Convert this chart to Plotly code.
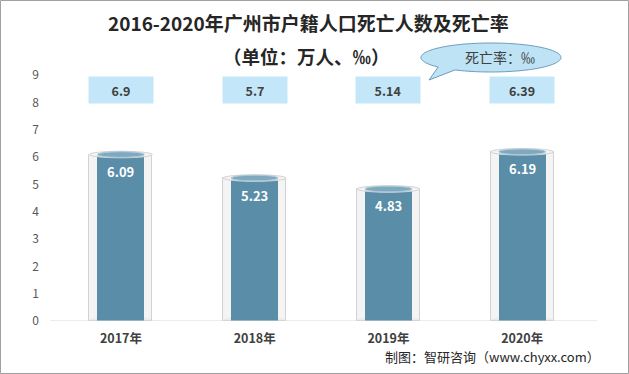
import numpy as np
import plotly.graph_objects as go

years = ["2017年", "2018年", "2019年", "2020年"]
deaths = [6.09, 5.23, 4.83, 6.19]          # 死亡人数（万人）
rates = [6.9, 5.7, 5.14, 6.39]             # 死亡率（‰）
y_ticks = [0, 1, 2, 3, 4, 5, 6, 7, 8, 9]

TITLE1 = "2016-2020年广州市户籍人口死亡人数及死亡率"
TITLE2 = "（单位：万人、‰）"
CALLOUT = "死亡率：‰"
SOURCE = "制图：智研咨询（www.chyxx.com）"

W, H = 629, 374
ML, MR, MT, MB = 54, 40, 75, 53
PW, PH = W - ML - MR, H - MT - MB
FONT = "Noto Sans CJK SC"

def px(xp):
    return (xp - ML) / PW

def py(yp):
    return (H - MB - yp) / PH

fig = go.Figure()

# outer glass cylinder
fig.add_trace(go.Bar(
    x=years, y=deaths, width=0.47,
    marker=dict(color="rgba(240,240,240,0.7)", line=dict(color="#D2D2D2", width=1)),
    hoverinfo="skip", showlegend=False,
))
# inner bar
fig.add_trace(go.Bar(
    x=years, y=deaths, width=0.35,
    marker=dict(color="#5A8DA7", line=dict(width=0)),
    showlegend=False,
))

shapes = []
annotations = []
cap_h = 0.12
for i, v in enumerate(deaths):
    # bottom caps
    shapes.append(dict(type="circle", xref="x", yref="y", x0=i - 0.235, x1=i + 0.235,
                       y0=-cap_h * 0.6, y1=cap_h, fillcolor="#EDEDED", line=dict(color="#D2D2D2", width=1),
                       layer="below"))
    shapes.append(dict(type="circle", xref="x", yref="y", x0=i - 0.175, x1=i + 0.175,
                       y0=-cap_h * 0.4, y1=cap_h * 0.8, fillcolor="#5A8DA7", line=dict(width=0)))
    # top caps
    shapes.append(dict(type="circle", xref="x", yref="y", x0=i - 0.235, x1=i + 0.235,
                       y0=v - cap_h, y1=v + cap_h, fillcolor="rgba(246,246,246,0.9)",
                       line=dict(color="#D2D2D2", width=1)))
    shapes.append(dict(type="circle", xref="x", yref="y", x0=i - 0.175, x1=i + 0.175,
                       y0=v - cap_h * 0.85, y1=v + cap_h * 0.85, fillcolor="#7FA9BF",
                       line=dict(color="#A9C8D8", width=1)))
    # value label
    annotations.append(dict(x=i, y=v, xref="x", yref="y", text=f"<b>{v:.2f}</b>",
                            showarrow=False, yshift=-17,
                            font=dict(family=FONT, size=13, color="white")))
    # rate box
    annotations.append(dict(x=i, y=8.45, xref="x", yref="y", text=f"<b>{rates[i]:g}</b>",
                            showarrow=False, width=64, height=26, borderpad=0,
                            bgcolor="#C3E7F8", align="center", valign="middle",
                            font=dict(family=FONT, size=12.5, color="#404040")))

# x axis line
shapes.append(dict(type="line", xref="paper", yref="y", x0=px(50), x1=px(597), y0=0, y1=0,
                   line=dict(color="#D9D9D9", width=1)))

# callout bubble (ellipse with tail) as one path
cx, cy, rx, ry = 491, 57.5, 70, 14.5
tip = (429, 80)
angs = np.deg2rad(np.linspace(121, 139 - 360, 120))
pts = [(cx + rx * np.cos(a), cy + ry * np.sin(a)) for a in angs]
pts.append(tip)
path = "M " + " L ".join(f"{px(x):.5f},{py(y):.5f}" for x, y in pts) + " Z"
shapes.append(dict(type="path", xref="paper", yref="paper", path=path,
                   fillcolor="#BDE3F5", line=dict(color="#6C9CBF", width=1)))

# outer frame
shapes.append(dict(type="rect", xref="paper", yref="paper",
                   x0=px(0.5), x1=px(W - 0.5), y0=py(H - 0.5), y1=py(0.5),
                   line=dict(color="#A0A0A0", width=1), fillcolor="rgba(0,0,0,0)"))

annotations += [
    dict(x=px(308.5), y=py(22), xref="paper", yref="paper", text=f"<b>{TITLE1}</b>",
         showarrow=False, xanchor="center", yanchor="middle",
         font=dict(family=FONT, size=19, color="#262626")),
    dict(x=px(306), y=py(56), xref="paper", yref="paper", text=f"<b>{TITLE2}</b>",
         showarrow=False, xanchor="center", yanchor="middle",
         font=dict(family=FONT, size=18.5, color="#262626")),
    dict(x=px(500), y=py(57), xref="paper", yref="paper", text=CALLOUT,
         showarrow=False, xanchor="center", yanchor="middle",
         font=dict(family=FONT, size=14, color="#404040")),
    dict(x=px(602), y=py(356), xref="paper", yref="paper", text=SOURCE,
         showarrow=False, xanchor="right", yanchor="middle",
         font=dict(family=FONT, size=13, color="#262626")),
]

fig.update_layout(
    width=W, height=H,
    margin=dict(l=ML, r=MR, t=MT, b=MB, pad=0),
    paper_bgcolor="white", plot_bgcolor="white",
    barmode="overlay", bargap=0,
    showlegend=False,
    shapes=shapes, annotations=annotations,
    xaxis=dict(type="category", showgrid=False, zeroline=False, showline=False, ticks="",
               ticklabelstandoff=8,
               tickfont=dict(family=FONT, size=12.5, color="#404040", weight="bold"),
               fixedrange=True),
    yaxis=dict(range=[0, 9], tickvals=y_ticks, showgrid=False, zeroline=False, showline=False,
               ticks="", ticklabelstandoff=14,
               tickfont=dict(family=FONT, size=12, color="#595959"),
               fixedrange=True),
)

fig.write_html("out.html", config={"displayModeBar": False},
               post_script="document.body.style.margin='0px';")
